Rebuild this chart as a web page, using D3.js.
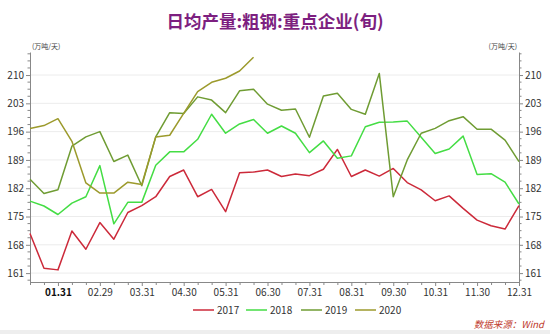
<!DOCTYPE html>
<html><head><meta charset="utf-8">
<script src="https://cdn.jsdelivr.net/npm/d3@7/dist/d3.min.js"></script>
<style>
body{margin:0;background:#fff;}
svg{display:block;font-family:"Noto Sans CJK SC","Open Sans",sans-serif;}
</style></head>
<body>
<svg id="chart" width="550" height="334"></svg>
<script>
const categories = ["01.10","01.20","01.31","02.10","02.20","02.29","03.10","03.20","03.31","04.10","04.20","04.30",
"05.10","05.20","05.31","06.10","06.20","06.30","07.10","07.20","07.31","08.10","08.20","08.31",
"09.10","09.20","09.30","10.10","10.20","10.31","11.10","11.20","11.30","12.10","12.20","12.31"];
const seriesNames = ["2017","2018","2019","2020"];
const v2017 = [170.8,162.2,161.8,171.4,166.9,173.5,169.4,176.0,177.7,179.9,184.9,186.5,179.9,181.7,176.2,185.8,186.0,186.5,184.9,185.5,185.1,186.7,191.6,184.9,186.5,185.0,186.9,183.4,181.6,178.9,180.1,177.0,174.1,172.7,171.9,177.7];
const v2018 = [178.8,177.6,175.5,178.3,179.9,187.6,173.2,178.5,178.5,187.7,191.0,191.0,194.1,200.3,195.6,197.9,199.0,195.6,197.4,195.6,190.8,193.7,189.4,190.0,197.2,198.3,198.4,198.6,194.6,190.6,191.7,194.9,185.4,185.6,183.5,178.1];
const v2019 = [184.2,180.7,181.6,192.4,194.7,196.0,188.6,190.2,182.6,194.7,200.7,200.5,204.6,203.8,200.7,206.1,206.5,202.8,201.3,201.6,194.6,204.8,205.5,201.5,200.3,210.4,179.9,189.0,195.6,196.8,198.7,199.7,196.6,196.6,193.9,188.6];
const v2020 = [196.8,197.5,199.2,193.6,183.3,180.8,180.8,183.5,182.9,194.7,195.1,200.5,205.9,208.2,209.2,211.0,214.4];
const yTicks = [161,168,175,182,189,196,203,210];
const colors = ["#cc2a3a","#44dd44","#6f9c33","#9c9a2c"];
const titleText = "日均产量:粗钢:重点企业(旬)";
const unitText = "(万吨/天)";
const sourceText = "数据来源：Wind";

const svg = d3.select("#chart");
const L = 30, R = 519, T = 52, B = 282;
const x = d3.scalePoint().domain(categories).range([L, R]);
const y = d3.scaleLinear().domain([158.8, 215.7]).range([B, T]);

// background footer strip
svg.append("rect").attr("x",0).attr("y",330).attr("width",550).attr("height",4).attr("fill","#eeeeee");

// title
svg.append("text").attr("x",275).attr("y",28).attr("text-anchor","middle")
  .attr("font-size",17.5).attr("font-weight","bold").attr("fill","#7d1f80").text(titleText);

// grid
svg.append("g").selectAll("line").data(yTicks).join("line")
  .attr("x1",L).attr("x2",R).attr("y1",d=>y(d)).attr("y2",d=>y(d))
  .attr("stroke","#ececec").attr("stroke-width",1);

// minor ticks values
const minor = d3.range(0, 33).map(k => 161 - 1.75 + k*1.75).filter(v => v > 158.8 && v < 215.7 && !yTicks.some(t=>Math.abs(t-v)<0.01));

function styleAxis(g){
  g.select(".domain").attr("stroke","#888");
  g.selectAll(".tick line").attr("stroke","#888");
  g.selectAll(".tick text").attr("fill","#333").attr("font-size",10).attr("font-family","'Noto Sans CJK SC','Open Sans',sans-serif");
}

const yl = svg.append("g").attr("transform",`translate(${L},0)`)
  .call(d3.axisLeft(y).tickValues(yTicks).tickSize(4).tickPadding(2).tickSizeOuter(0));
styleAxis(yl);
yl.selectAll(".minor").data(minor).join("line").attr("class","minor")
  .attr("x1",0).attr("x2",-2.5).attr("y1",d=>y(d)).attr("y2",d=>y(d)).attr("stroke","#888");

const yr = svg.append("g").attr("transform",`translate(${R},0)`)
  .call(d3.axisRight(y).tickValues(yTicks).tickSize(4).tickPadding(2).tickSizeOuter(0));
styleAxis(yr);
yr.selectAll(".minor").data(minor).join("line").attr("class","minor")
  .attr("x1",0).attr("x2",2.5).attr("y1",d=>y(d)).attr("y2",d=>y(d)).attr("stroke","#888");

const xa = svg.append("g").attr("transform",`translate(0,${B})`)
  .call(d3.axisBottom(x).tickValues(categories).tickSize(4).tickPadding(3).tickSizeOuter(0)
    .tickFormat((d,i)=> (i%3===2) ? d.replace(/\.\d+$/, m => m) : ""));
styleAxis(xa);
xa.selectAll(".tick text").text((d,i)=> {
  const monthEnd = ["01.31","02.29","03.31","04.30","05.31","06.30","07.31","08.31","09.30","10.31","11.30","12.31"];
  return monthEnd.includes(d) ? d : "";
});
xa.selectAll(".tick").filter((d,i)=> i%3!==2).select("line").attr("y2",3);
xa.selectAll(".tick text").filter(d=>d==="01.31").attr("fill","#111").attr("font-weight","bold");

// unit labels
svg.append("text").attr("x",L+2).attr("y",49).attr("font-size",7).attr("fill","#444").text(unitText);
svg.append("text").attr("x",R-2).attr("y",49).attr("font-size",7).attr("fill","#444").attr("text-anchor","end").text(unitText);

// lines
const allSeries = [v2017, v2018, v2019, v2020];
const line = d3.line().x((d,i)=>x(categories[i])).y(d=>y(d));
allSeries.forEach((s,k)=>{
  svg.append("path").datum(s).attr("d",line).attr("fill","none")
    .attr("stroke",colors[k]).attr("stroke-width",1.5).attr("stroke-linejoin","round");
});

// legend
const lg = svg.append("g");
const lx = [193, 246, 301, 355];
seriesNames.forEach((n,k)=>{
  lg.append("line").attr("x1",lx[k]).attr("x2",lx[k]+21).attr("y1",310).attr("y2",310)
    .attr("stroke",colors[k]).attr("stroke-width",1.5);
  lg.append("text").attr("x",lx[k]+24).attr("y",313.5).attr("font-size",10).attr("fill","#333").text(n);
});

// source
svg.append("text").attr("x",544).attr("y",328).attr("text-anchor","end").attr("font-size",9.5)
  .attr("font-style","italic").attr("fill","#c0392b").text(sourceText);
</script>
</body></html>
